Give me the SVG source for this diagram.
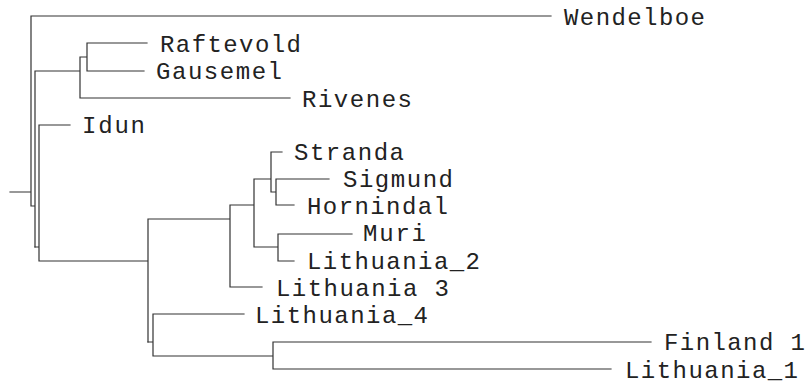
<svg xmlns="http://www.w3.org/2000/svg" width="808" height="387" viewBox="0 0 808 387">
<style>
.c path{fill:none;stroke:#333;stroke-width:1.2;stroke-linecap:square}
text{font-family:"Courier New","Liberation Mono",monospace;font-size:24px;fill:#222}
</style>
<rect width="808" height="387" fill="#fff"/>
<g class="c" id="connectors">
<path d="M10,192H31M31,16V206M31,16H551M31,206H35M35,71V247M35,71H80M80,57V98M80,98H290M80,57H87M87,43V71M87,43H147M87,71H144"/>
<path d="M35,247H39M39,125V261M39,125H70M39,261H148M148,219V342M148,219H230M230,205V287M230,287H262M230,205H254M254,179V247M254,179H271M271,152V192M271,152H282M271,192H276M276,179V205M276,179H329M276,205H294M254,247H278M278,234V261M278,234H352M278,261H294"/>
<path d="M148,342H153M153,314V356M153,314H244M153,356H273M273,342V369M273,342H651M273,369H611"/>
</g>
<g id="n-wendelboe"><text x="564" y="25" textLength="141" lengthAdjust="spacing">Wendelboe</text></g>
<g id="n-raftevold"><text x="160" y="52" textLength="141" lengthAdjust="spacing">Raftevold</text></g>
<g id="n-gausemel"><text x="156" y="79" textLength="126" lengthAdjust="spacing">Gausemel</text></g>
<g id="n-rivenes"><text x="302" y="107" textLength="110" lengthAdjust="spacing">Rivenes</text></g>
<g id="n-idun"><text x="82" y="133" textLength="63" lengthAdjust="spacing">Idun</text></g>
<g id="n-stranda"><text x="294" y="160" textLength="110" lengthAdjust="spacing">Stranda</text></g>
<g id="n-sigmund"><text x="343" y="187" textLength="110" lengthAdjust="spacing">Sigmund</text></g>
<g id="n-hornindal"><text x="307" y="214" textLength="141" lengthAdjust="spacing">Hornindal</text></g>
<g id="n-muri"><text x="363" y="241" textLength="63" lengthAdjust="spacing">Muri</text></g>
<g id="n-lithuania2"><text x="307" y="269" textLength="173" lengthAdjust="spacing">Lithuania_2</text></g>
<g id="n-lithuania3"><text x="276" y="296" textLength="173" lengthAdjust="spacing">Lithuania 3</text></g>
<g id="n-lithuania4"><text x="255" y="323" textLength="173" lengthAdjust="spacing">Lithuania_4</text></g>
<g id="n-finland1"><text x="664" y="350" textLength="141" lengthAdjust="spacing">Finland 1</text></g>
<g id="n-lithuania1"><text x="625" y="378" textLength="173" lengthAdjust="spacing">Lithuania_1</text></g>
</svg>
